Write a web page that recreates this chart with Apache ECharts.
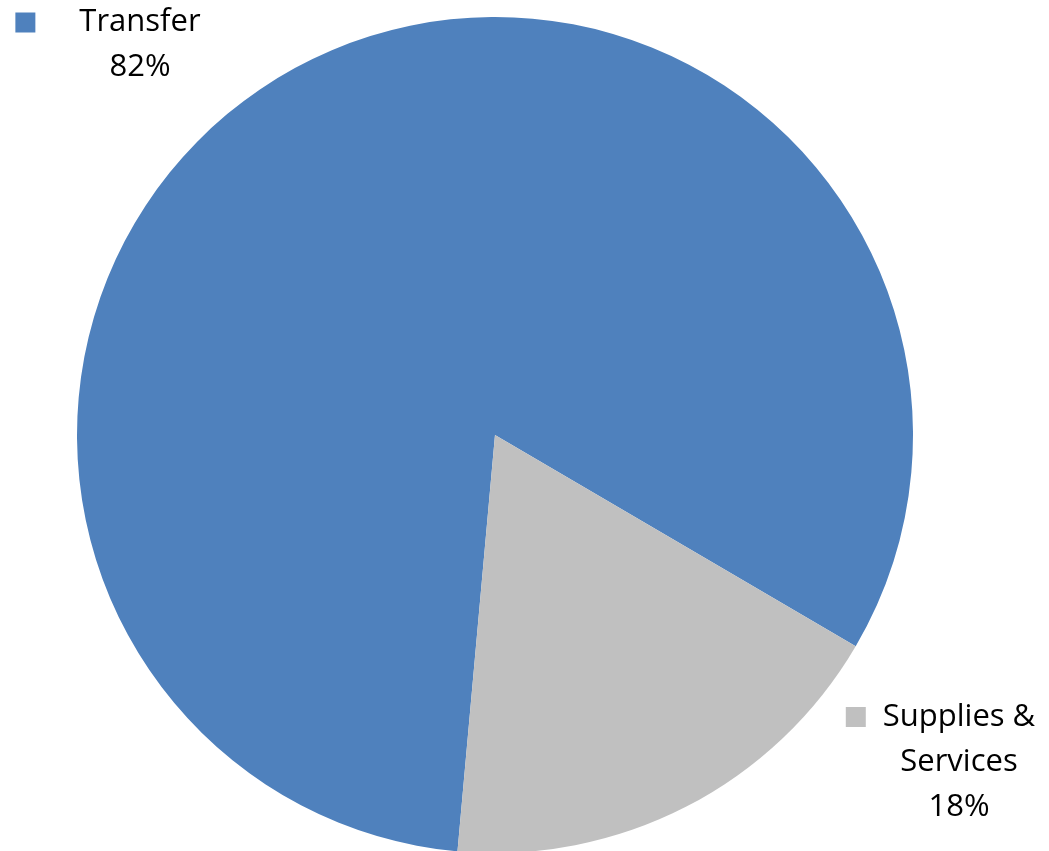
<!DOCTYPE html>
<html>
<head>
<meta charset="utf-8">
<script src="https://cdn.jsdelivr.net/npm/echarts@6/dist/echarts.min.js"></script>
<style>
  html, body { margin: 0; padding: 0; background: #ffffff; }
  #chart { width: 1049px; height: 851px; }
</style>
</head>
<body>
<div id="chart"></div>
<script>
// Spending breakdown
const categories = ['Transfer', 'Supplies & Services'];
const shares = [82, 18];
const colors = ['#4F81BD', '#C0C0C0'];

// label block centres and marker gaps for each slice
const labelSpots = [
  { x: 140, y: 45, gap: 44, lines: ['Transfer'] },
  { x: 959, y: 762, gap: 17, lines: ['Supplies &', 'Services'] }
];

const chart = echarts.init(document.getElementById('chart'));

function labelFor(i) {
  const spot = labelSpots[i];
  const first = '{m|}{g' + i + '|}{t|' + spot.lines[0] + '}{g' + i + '|}{m0|}';
  const rest = spot.lines.slice(1).map(s => '{t|' + s + '}');
  return [first].concat(rest).concat(['{t|' + shares[i] + '%}']).join('\n');
}

const data = categories.map((name, i) => {
  const rich = {
    m: { width: 20, height: 20, backgroundColor: colors[i] },
    m0: { width: 20, height: 20 },
    t: { fontFamily: '"Open Sans", Lato, sans-serif', fontSize: 31, color: '#000', lineHeight: 45 }
  };
  rich['g' + i] = { width: labelSpots[i].gap };
  return {
    name: name,
    value: shares[i],
    itemStyle: { color: colors[i] },
    label: { formatter: labelFor(i), rich: rich }
  };
});

chart.setOption({
  animation: false,
  series: [{
    type: 'pie',
    center: [495, 435],
    radius: 418,
    startAngle: 264.85,
    clockwise: true,
    data: data,
    emphasis: { disabled: true },
    itemStyle: { borderWidth: 0 },
    label: {
      show: true,
      position: 'outside',
      align: 'center',
      lineHeight: 45
    },
    labelLine: { show: false },
    labelLayout: function (params) {
      const spot = labelSpots[params.dataIndex];
      return { x: spot.x, y: spot.y, align: 'center', verticalAlign: 'middle' };
    }
  }]
});
</script>
</body>
</html>
